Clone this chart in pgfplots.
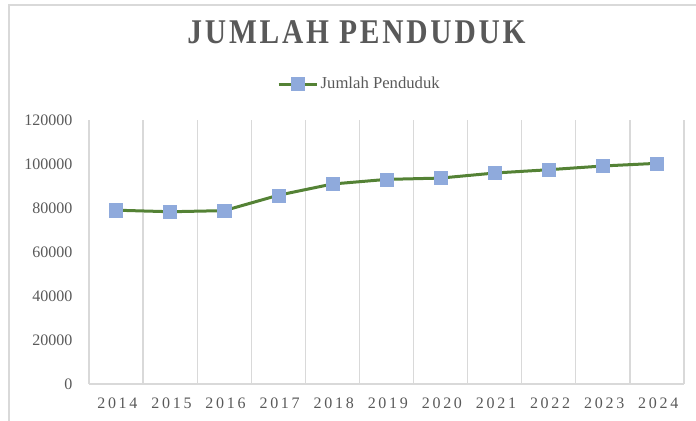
\documentclass[border=0pt]{standalone}
\usepackage{fontspec}
\setmainfont{Liberation Serif}
\usepackage{pgfplots}
\pgfplotsset{compat=1.18}
\definecolor{clrLine}{HTML}{548235}
\definecolor{clrMark}{HTML}{8FAADC}
\definecolor{clrGrid}{HTML}{D9D9D9}
\definecolor{clrText}{HTML}{595959}
\newfontfamily\titlefont[FakeStretch=0.85,LetterSpace=8]{Liberation Serif}
\newfontfamily\xfont[LetterSpace=17]{Liberation Serif}

\begin{document}
\begin{tikzpicture}
\useasboundingbox (-66.75pt,-27.75pt) rectangle (455.25pt,288pt);
\draw[clrGrid, line width=1.2pt] (-60pt,-60pt) rectangle (500pt,284.25pt);
\begin{axis}[
  scale only axis,
  width=446.25pt, height=198pt,
  xmin=-0.5, xmax=10.5,
  ymin=0, ymax=120000,
  xtick={0,...,10},
  xticklabels={2014,2015,2016,2017,2018,2019,2020,2021,2022,2023,2024},
  minor xtick={-0.5,0.5,...,10.5},
  xminorgrids=true,
  minor grid style={clrGrid, line width=1pt},
  ytick={0,20000,...,120000},
  scaled y ticks=false,
  yticklabel={\pgfmathprintnumber[fixed,precision=0,1000 sep={}]{\tick}},
  /pgf/number format/assume math mode=true,
  major tick length=0pt, minor tick length=0pt,
  axis x line*=bottom, axis y line*=left,
  x axis line style={clrGrid, line width=1pt, -},
  y axis line style={draw=none, -},
  ticklabel style={font=\fontsize{12pt}{14pt}\selectfont, text=clrText},
  xticklabel style={font=\fontsize{12pt}{14pt}\selectfont\xfont, anchor=base, yshift=-18pt, xshift=1pt},
  yticklabel style={anchor=east, xshift=-9pt},
  title={\titlefont\bfseries JUMLAH PENDUDUK},
  title style={at={(0.4496,1.261)}, anchor=base, font=\fontsize{26pt}{30pt}\selectfont, text=clrText},
  legend style={at={(0.455,1.136)}, anchor=center, draw=none, fill=none,
    font=\fontsize{12.5pt}{14pt}\selectfont, text=clrText},
  legend image code/.code={
    \draw[mark repeat=2, mark phase=2, #1] plot coordinates {(0cm,0cm) (0.5cm,0cm) (1.0cm,0cm)};
  },
  clip=false,
]
\addplot[clrLine, line width=2.25pt, mark=square*, mark size=4.9pt,
  mark options={fill=clrMark, draw=clrMark, line width=0.3pt}]
  coordinates {
  (0,79000) (1,78300) (2,78800) (3,85800) (4,90900) (5,93000)
  (6,93600) (7,95900) (8,97400) (9,99100) (10,100300)
  };
\addlegendentry{Jumlah Penduduk}
\end{axis}
\end{tikzpicture}
\end{document}
